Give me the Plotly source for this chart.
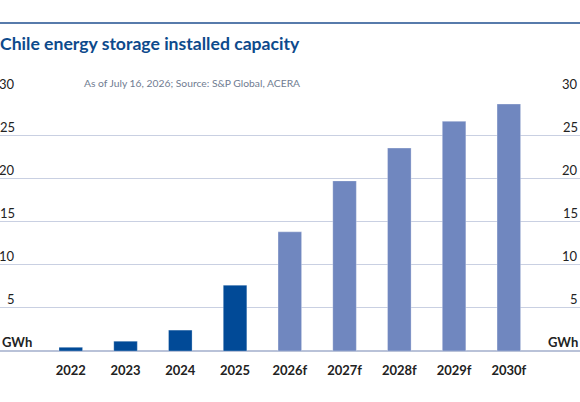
import plotly.graph_objects as go

categories = ["2022", "2023", "2024", "2025", "2026f", "2027f", "2028f", "2029f", "2030f"]
capacity_gwh = [0.43, 1.13, 2.42, 7.62, 13.8, 19.7, 23.5, 26.6, 28.6]
is_forecast = [False, False, False, False, True, True, True, True, True]
tick_values = [5, 10, 15, 20, 25, 30]
tick_labels = ["5", "10", "15", "20", "25", "30"]
unit_label = "GWh"
title_text = "Chile energy storage installed capacity"
source_text = "As of July 16, 2026; Source: S&P Global, ACERA"

ACTUAL = "#014a97"
FORECAST = "#7087bf"
FONT = "Lato, 'Source Sans Pro', sans-serif"

W, H = 580, 402
T, B = 92, 51
plot_h = H - T - B

colors = [FORECAST if f else ACTUAL for f in is_forecast]

fig = go.Figure(go.Bar(
    x=categories, y=capacity_gwh,
    marker=dict(color=colors, line=dict(width=0.8, color="rgba(255,255,255,0.35)")),
    width=0.43, hoverinfo="x+y",
))

annotations = []
for v, lab in zip(tick_values, tick_labels):
    annotations.append(dict(x=17 / W, xref="paper", y=v, yref="y", text=lab, showarrow=False,
                            xanchor="right", yanchor="middle", yshift=8.5,
                            font=dict(family=FONT, size=13, color="#222222")))
    annotations.append(dict(x=1, xref="paper", y=v, yref="y", text=lab, showarrow=False,
                            xanchor="right", yanchor="middle", yshift=8.5,
                            font=dict(family=FONT, size=13, color="#222222")))
annotations.append(dict(x=0, xref="paper", y=0, yref="y", text="<b>%s</b>" % unit_label, showarrow=False,
                        xanchor="left", yanchor="middle", yshift=9,
                        font=dict(family=FONT, size=13, color="#222222")))
annotations.append(dict(x=1, xref="paper", y=0, yref="y", text="<b>%s</b>" % unit_label, showarrow=False,
                        xanchor="right", yanchor="middle", yshift=9,
                        font=dict(family=FONT, size=13, color="#222222")))
annotations.append(dict(x=82 / W, xref="paper", y=30, yref="y", text=source_text, showarrow=False,
                        xanchor="left", yanchor="middle", yshift=9,
                        font=dict(family=FONT, size=10.3, color="#6f7c91")))

line_y = 1 + (T - 23) / plot_h

fig.update_layout(
    width=W, height=H,
    margin=dict(l=0, r=0, t=T, b=B),
    paper_bgcolor="white", plot_bgcolor="white",
    showlegend=False,
    title=dict(text="<b>%s</b>" % title_text, x=0, xanchor="left", y=1 - 44 / H, yanchor="middle",
               font=dict(family=FONT, size=17.6, color="#0d4a8c")),
    xaxis=dict(range=[-1.293, 9.30], showgrid=False, zeroline=False, showline=False,
               ticks="", tickfont=dict(family=FONT, size=13, color="#222222", weight="bold"),
               ticklabelstandoff=10),
    yaxis=dict(range=[0, 30], showticklabels=False, tickvals=tick_values + [0],
               showgrid=True, gridcolor="#c9d0e2", gridwidth=1,
               zeroline=True, zerolinecolor="#b9c2d8", zerolinewidth=1.5, showline=False),
    annotations=annotations,
    shapes=[dict(type="line", xref="paper", yref="paper", x0=0, x1=1, y0=line_y, y1=line_y,
                 line=dict(color="#1f4f8f", width=1.5))],
    bargap=0.57,
)

fig.write_html("out.html", config={"displayModeBar": False},
               post_script="document.body.style.margin='0';document.body.style.overflow='hidden';")
